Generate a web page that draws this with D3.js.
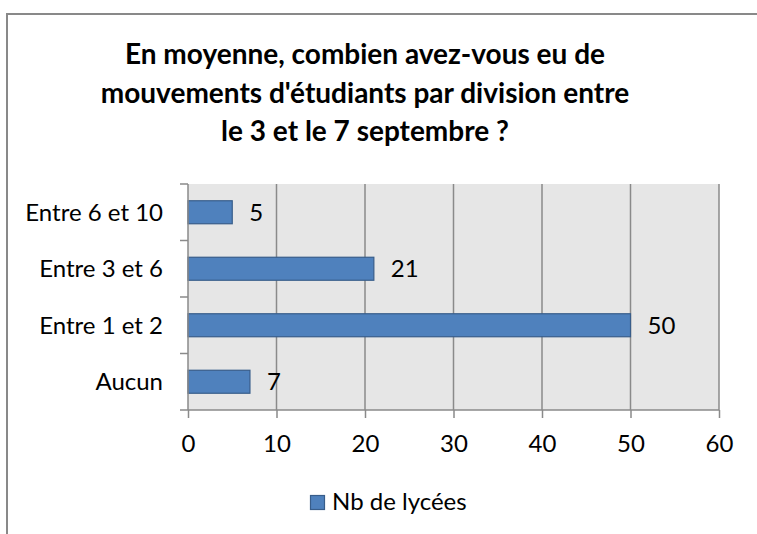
<!DOCTYPE html>
<html>
<head>
<meta charset="utf-8">
<script src="https://cdn.jsdelivr.net/npm/d3@7"></script>
<style>
  html, body { margin: 0; padding: 0; background: #fff; }
  svg { display: block; }
  text { font-family: Lato, "Open Sans", sans-serif; fill: #000; }
</style>
</head>
<body>
<svg id="chart" width="757" height="534"></svg>
<script>
const categories = ["Entre 6 et 10", "Entre 3 et 6", "Entre 1 et 2", "Aucun"];
const values = [5, 21, 50, 7];
const xTicks = [0, 10, 20, 30, 40, 50, 60];
const titleLines = [
  "En moyenne, combien avez-vous eu de",
  "mouvements d'étudiants par division entre",
  "le 3 et le 7 septembre ?"
];
const seriesName = "Nb de lycées";

const svg = d3.select("#chart");
const W = 757, H = 534;
const plot = { left: 188, right: 719, top: 184, bottom: 410 };
const FS = 24;

// outer frame
svg.append("path")
  .attr("d", `M7,${H} L7,14 L${W},14`)
  .attr("fill", "none").attr("stroke", "#898989").attr("stroke-width", 2);

// title
const title = svg.append("text")
  .attr("text-anchor", "middle")
  .attr("font-weight", "bold")
  .attr("font-size", 28);
titleLines.forEach((t, i) => {
  title.append("tspan").attr("x", 365).attr("y", 64 + i * 38.5).text(t);
});

const x = d3.scaleLinear().domain([0, 60]).range([plot.left, plot.right]);
const y = d3.scaleBand().domain(categories)
  .range([plot.top, plot.bottom])
  .paddingInner(0.593).paddingOuter(0.2965);

// plot background
svg.append("rect")
  .attr("x", plot.left).attr("y", plot.top)
  .attr("width", plot.right - plot.left).attr("height", plot.bottom - plot.top)
  .attr("fill", "#e6e6e6");

// gridlines
svg.append("g").selectAll("line").data(xTicks.filter(d => d > 0)).join("line")
  .attr("x1", d => x(d)).attr("x2", d => x(d))
  .attr("y1", plot.top).attr("y2", plot.bottom)
  .attr("stroke", "#8a8a8a").attr("stroke-width", 1.5);

// bars
svg.append("g").selectAll("rect").data(values).join("rect")
  .attr("x", x(0))
  .attr("y", (d, i) => y(categories[i]))
  .attr("width", d => x(d) - x(0))
  .attr("height", y.bandwidth())
  .attr("fill", "#4f81bd")
  .attr("stroke", "#385d8a").attr("stroke-width", 1.2);

// x axis
const xAxis = d3.axisBottom(x).tickValues(xTicks).tickSize(8).tickPadding(17).tickFormat(d3.format("d"));
const gx = svg.append("g").attr("transform", `translate(0,${plot.bottom})`).call(xAxis);
gx.select(".domain").attr("stroke", "#8a8a8a").attr("stroke-width", 1.5).attr("d", `M${plot.left},0H${plot.right}`);
gx.selectAll(".tick line").attr("stroke", "#8a8a8a").attr("stroke-width", 1.5);
gx.selectAll(".tick text").attr("font-size", FS).attr("font-family", "Lato, sans-serif").attr("fill", "#000").attr("dy", "0.71em");

// y axis (category) with ticks at band boundaries
const boundaries = categories.map(c => y(c) - y.step() * y.paddingInner() / 2).concat([plot.bottom]);
svg.append("line")
  .attr("x1", plot.left).attr("x2", plot.left)
  .attr("y1", plot.top).attr("y2", plot.bottom)
  .attr("stroke", "#8a8a8a").attr("stroke-width", 1.5);
svg.append("g").selectAll("line").data(boundaries).join("line")
  .attr("x1", plot.left - 8).attr("x2", plot.left)
  .attr("y1", d => d).attr("y2", d => d)
  .attr("stroke", "#8a8a8a").attr("stroke-width", 1.5);
svg.append("g").selectAll("text").data(categories).join("text")
  .attr("x", 163)
  .attr("y", d => y(d) + y.bandwidth() / 2 + 8.5)
  .attr("text-anchor", "end")
  .attr("font-size", FS)
  .text(d => d);

// data labels
svg.append("g").selectAll("text").data(values).join("text")
  .attr("x", d => x(d) + 17)
  .attr("y", (d, i) => y(categories[i]) + y.bandwidth() / 2 + 8.5)
  .attr("font-size", FS)
  .text(d => d);

// legend
svg.append("rect").attr("x", 310.5).attr("y", 495.5).attr("width", 14).attr("height", 14)
  .attr("fill", "#4f81bd").attr("stroke", "#385d8a").attr("stroke-width", 1.2);
svg.append("text").attr("x", 332).attr("y", 510).attr("font-size", FS).text(seriesName);
</script>
</body>
</html>
